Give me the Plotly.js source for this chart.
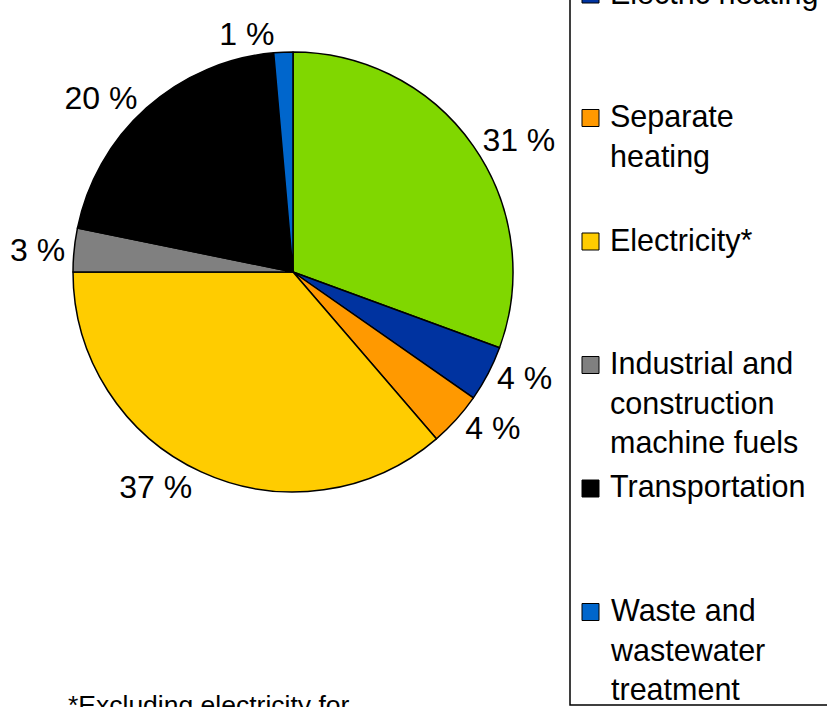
<!DOCTYPE html>
<html>
<head>
<meta charset="utf-8">
<script src="https://cdn.plot.ly/plotly-3.0.1.min.js"></script>
<style>
  html, body { margin: 0; padding: 0; background: #fff; }
  #chart { width: 827px; height: 707px; }
</style>
</head>
<body>
<div id="chart"></div>
<script>
// ---- data ----
const categories = ["District heating", "Electric heating", "Separate heating", "Electricity*",
  "Industrial and construction machine fuels", "Transportation", "Waste and wastewater treatment"];
const legendLabels = ["District heating", "Electric heating", "Separate<br>heating", "Electricity*",
  "Industrial and<br>construction<br>machine fuels", "Transportation", "Waste and<br>wastewater<br>treatment"];
const shares = [30.6, 4.1, 4.0, 36.3, 3.2, 20.4, 1.4];
const shareLabels = ["31 %", "4 %", "4 %", "37 %", "3 %", "20 %", "1 %"];
const colors = ["#80D700", "#0033A0", "#FF9900", "#FFCC00", "#808080", "#000000", "#0066CC"];
const footnote = "*Excluding electricity for";

// ---- layout helpers ----
const W = 827, H = 707;
const px = x => x / W;
const py = y => 1 - y / H;
const FONT = "Liberation Sans, Arial, sans-serif";

const shapes = [];
const annotations = [];

// legend frame
shapes.push({type: "rect", xref: "paper", yref: "paper",
  x0: px(570), x1: px(900), y0: py(705), y1: py(-50),
  line: {color: "#000", width: 1.5}, fillcolor: "rgba(0,0,0,0)", layer: "above"});

categories.forEach((c, i) => {
  const cy = 118 + (i - 2) * 123.5;
  shapes.push({type: "rect", xref: "paper", yref: "paper",
    x0: px(582), x1: px(599), y0: py(cy + 8.5), y1: py(cy - 8.5),
    line: {color: "#000", width: 1}, fillcolor: colors[i]});
  annotations.push({xref: "paper", yref: "paper", x: px(609), y: py(cy - 20),
    xanchor: "left", yanchor: "top", align: "left", showarrow: false, borderpad: 0,
    text: legendLabels[i], font: {family: FONT, size: 30.5, color: "#000"}});
});

annotations.push({xref: "paper", yref: "paper", x: px(67), y: py(689),
  xanchor: "left", yanchor: "top", align: "left", showarrow: false, borderpad: 0,
  text: footnote, font: {family: FONT, size: 26.5, color: "#000"}});

const trace = {
  type: "pie",
  labels: categories,
  values: shares,
  text: shareLabels,
  textinfo: "text",
  textposition: "outside",
  textfont: {family: FONT, size: 32, color: "#000"},
  sort: false,
  direction: "clockwise",
  rotation: 0,
  hole: 0,
  marker: {colors: colors, line: {color: "#000", width: 1.5}},
  domain: {x: [px(73), px(513)], y: [py(492), py(52)]},
  showlegend: false,
  automargin: false
};

const layout = {
  width: W, height: H,
  margin: {l: 0, r: 0, t: 0, b: 0},
  paper_bgcolor: "#fff",
  plot_bgcolor: "#fff",
  font: {family: FONT},
  showlegend: false,
  shapes: shapes,
  annotations: annotations
};

Plotly.newPlot("chart", [trace], layout, {displayModeBar: false, staticPlot: true});
</script>
</body>
</html>
